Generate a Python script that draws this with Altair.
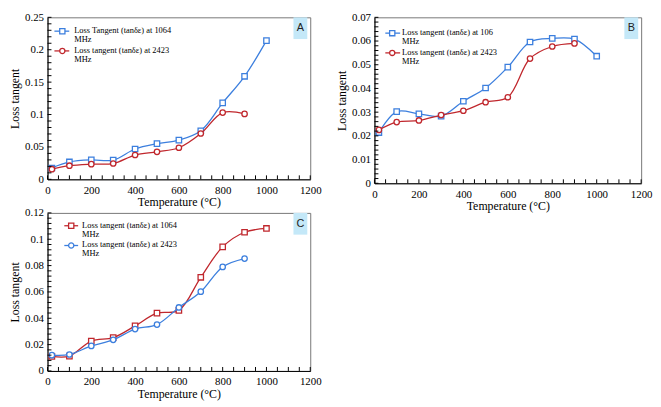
import altair as alt
import pandas as pd

# ---------------- data ----------------
temps = [20, 100, 200, 300, 400, 500, 600, 700, 800, 900, 1000]

a_1064 = [0.0175, 0.0268, 0.0300, 0.0297, 0.0468, 0.0550, 0.0604, 0.0750, 0.1180, 0.1590, 0.2140]
a_2423 = [0.0156, 0.0210, 0.0234, 0.0244, 0.0375, 0.0424, 0.0487, 0.0707, 0.1030, 0.1010]

b_106 = [0.0214, 0.0302, 0.0293, 0.0283, 0.0346, 0.0402, 0.0490, 0.0596, 0.0611, 0.0608, 0.0536]
b_2423 = [0.0225, 0.0258, 0.0265, 0.0288, 0.0306, 0.0342, 0.0363, 0.0526, 0.0577, 0.0590]

c_1064 = [0.0111, 0.0113, 0.0227, 0.0253, 0.0342, 0.0439, 0.0460, 0.0711, 0.0942, 0.1053, 0.1082]
c_2423 = [0.0120, 0.0125, 0.0190, 0.0236, 0.0318, 0.0352, 0.0482, 0.0602, 0.0790, 0.0853]

x_ticks = [0, 200, 400, 600, 800, 1000, 1200]
x_minor = list(range(0, 1201, 50))

a_yticks = [0, 0.05, 0.1, 0.15, 0.2, 0.25]
b_yticks = [0, 0.01, 0.02, 0.03, 0.04, 0.05, 0.06, 0.07]
c_yticks = [0, 0.02, 0.04, 0.06, 0.08, 0.1, 0.12]

a_legend = [["Loss Tangent (tan\u03b4\u03b5) at 1064", "MHz"], ["Loss tangent (tan\u03b4\u03b5) at 2423", "MHz"]]
b_legend = [["Loss tangent (tan\u03b4\u03b5) at 106", "MHz"], [" Loss tangent (tan\u03b4\u03b5) at 2423", "MHz"]]
c_legend = [[" Loss tangent (tan\u03b4\u03b5) at 1064", "MHz"], ["Loss tangent (tan\u03b4\u03b5) at 2423", "MHz"]]

SERIF = "Liberation Serif, Times New Roman, serif"
BLUE = "#3c7fde"
RED = "#c0272d"


def frange(lo, hi, step):
    n = int(round((hi - lo) / step))
    return [round(lo + i * step, 6) for i in range(n + 1)]


def panel(letter, series, labels, ymax, yticks, ystep, w, h, leg):
    xscale = alt.Scale(domain=[0, 1200], nice=False, zero=False)
    yscale = alt.Scale(domain=[0, ymax], nice=False)
    xaxis = alt.Axis(values=x_ticks, format="d", ticks=False, grid=False, domainColor="black",
                     labelFont=SERIF, labelFontSize=11, labelColor="black", labelPadding=5,
                     labelFlush=False, title="Temperature (\u00b0C)", titleFont=SERIF,
                     titleFontSize=12, titleFontWeight="normal", titleColor="black", titlePadding=2)
    yaxis = alt.Axis(values=yticks, format=".2~f", ticks=False, grid=False, domainColor="black",
                     labelFont=SERIF, labelFontSize=11, labelColor="black", labelPadding=4,
                     labelFlush=False, title="Loss tangent", titleFont=SERIF,
                     titleFontSize=12, titleFontWeight="normal", titleColor="black", titlePadding=3)

    X = alt.X("T:Q", scale=xscale, axis=xaxis)
    Y = alt.Y("V:Q", scale=yscale, axis=yaxis)

    layers = []
    for vals, color, shape in series:
        df = pd.DataFrame({"T": temps[:len(vals)], "V": vals})
        base = alt.Chart(df)
        layers.append(base.mark_line(interpolate="catmull-rom", color=color, strokeWidth=1.3)
                      .encode(x=X, y=Y))
        layers.append(base.mark_point(shape=shape, filled=True, fill="white", stroke=color,
                                      strokeWidth=1.3, size=30, opacity=1)
                      .encode(x=X, y=Y))

    # inward minor ticks
    xt = pd.DataFrame({"T": x_minor})
    layers.append(alt.Chart(xt).mark_rule(color="black", strokeWidth=1)
                  .encode(x=X, y=alt.value(h), y2=alt.value(h - 4)))
    yt = pd.DataFrame({"V": frange(0, ymax, ystep)})
    layers.append(alt.Chart(yt).mark_rule(color="black", strokeWidth=1)
                  .encode(y=Y, x=alt.value(0), x2=alt.value(4)))

    # manual legend
    one = pd.DataFrame({"k": [0]})
    lx0, lx1, mx, tx, ly1, ly2 = leg
    for label, (vals, color, shape), ly in zip(labels, series, [ly1, ly2]):
        c1 = alt.Chart(one)
        layers.append(c1.mark_rule(color=color, strokeWidth=1.3)
                      .encode(x=alt.value(lx0), x2=alt.value(lx1), y=alt.value(ly)))
        layers.append(c1.mark_point(shape=shape, filled=True, fill="white", stroke=color,
                                    strokeWidth=1.3, size=28, opacity=1)
                      .encode(x=alt.value(mx), y=alt.value(ly)))
        layers.append(c1.mark_text(text=label, align="left", baseline="top", font=SERIF,
                                   fontSize=8.5, lineHeight=9, color="black")
                      .encode(x=alt.value(tx), y=alt.value(ly - 5)))

    # panel letter box
    c1 = alt.Chart(one)
    layers.append(c1.mark_rect(color="#c4e8f8")
                  .encode(x=alt.value(w - 17), x2=alt.value(w - 3), y=alt.value(0), y2=alt.value(22)))
    layers.append(c1.mark_text(text=letter, align="center", baseline="middle", font="Liberation Sans",
                               fontSize=11, color="#222")
                  .encode(x=alt.value(w - 10), y=alt.value(11)))

    return alt.layer(*layers).properties(width=w, height=h)


pa = panel("A", [(a_1064, BLUE, "square"), (a_2423, RED, "circle")], a_legend, 0.25, a_yticks, 0.01,
           266, 164, (7, 22, 15, 27, 14, 34))
pb = panel("B", [(b_106, BLUE, "square"), (b_2423, RED, "circle")], b_legend, 0.07, b_yticks, 0.002,
           270, 168, (11, 26, 18, 28, 16, 36))
pc = panel("C", [(c_1064, RED, "square"), (c_2423, BLUE, "circle")], c_legend, 0.12, c_yticks, 0.004,
           266, 160, (17, 31, 24, 35, 13, 33))

chart = alt.concat(pa, pb, pc, columns=2, spacing=alt.RowColnumber(row=30, column=65),
                   bounds="flush", padding=0).configure(padding=0).configure_view(stroke="#777", strokeWidth=1)

chart.save("out.html", embed_options={"renderer": "svg", "actions": False})
